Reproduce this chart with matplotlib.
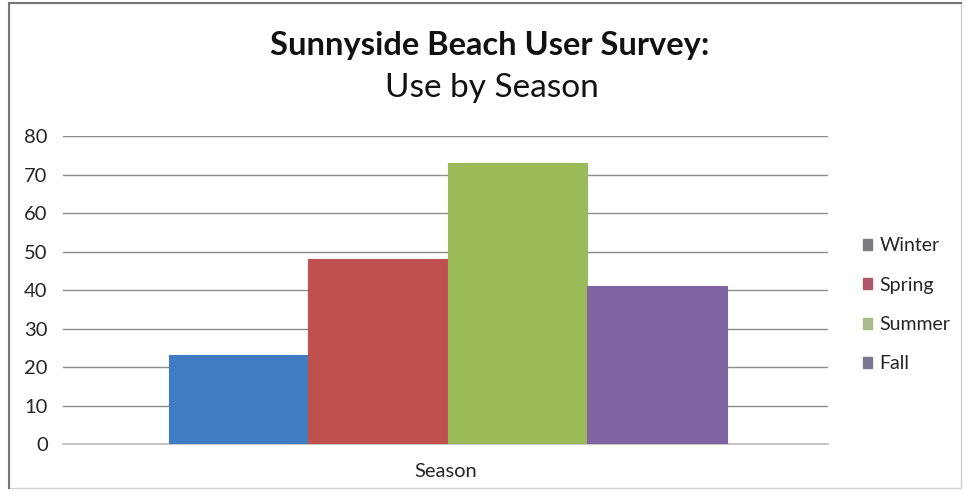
import matplotlib.pyplot as plt
from matplotlib.patches import Patch, Rectangle

# survey counts per season
seasons = ['Winter', 'Spring', 'Summer', 'Fall']
counts = [23, 48, 73, 41]
bar_colors = ['#3f7cc4', '#c0504d', '#9bbb59', '#8064a2']
# legend keys come out washed-out in the original export
key_colors = ['#7c7c80', '#b0566a', '#a9bb8c', '#7a7590']
category = 'Season'
yticks = [0, 10, 20, 30, 40, 50, 60, 70, 80]

plt.rcParams['font.family'] = ['Lato', 'DejaVu Sans']

fig = plt.figure(figsize=(9.66, 4.95), dpi=100)
ax = fig.add_axes([0.0652, 0.103, 0.792, 0.622])

# one category, four bars side by side
w = 0.1824
n = len(seasons)
for i, (s, v, c) in enumerate(zip(seasons, counts, bar_colors)):
    x = 0.003 + (i - (n - 1) / 2) * w
    ax.bar(x, v, width=w, color=c, edgecolor=c, linewidth=0.8, zorder=3)

ax.set_xlim(-0.5, 0.5)
ax.set_ylim(0, 80)
ax.set_yticks(yticks)
ax.set_xticks([0])
ax.set_xticklabels([category])
ax.tick_params(axis='both', length=0, labelsize=14.5, colors='#262626')
ax.tick_params(axis='y', pad=11)
ax.tick_params(axis='x', pad=14)
ax.yaxis.grid(True, color='#8c8c8c', linewidth=1.0, zorder=0)
ax.set_axisbelow(True)
for sp in ['left', 'right', 'top']:
    ax.spines[sp].set_visible(False)
ax.spines['bottom'].set_color('#bdbdbd')
ax.spines['bottom'].set_linewidth(1.2)

handles = [Patch(facecolor=k, edgecolor=k, label=s) for s, k in zip(seasons, key_colors)]
fig.legend(handles=handles, loc='center left', bbox_to_anchor=(0.875, 0.384),
           frameon=False, fontsize=14, handlelength=0.5, handleheight=0.5,
           handletextpad=0.35, labelspacing=1.15, labelcolor='#262626')

fig.text(0.507, 0.908, 'Sunnyside Beach User Survey:', ha='center', va='center',
         fontsize=23.5, fontweight='bold', color='#111111')
fig.text(0.509, 0.822, 'Use by Season', ha='center', va='center',
         fontsize=24, color='#111111')

# chart frame
fig.add_artist(Rectangle((0.0095, 0.015), 0.985, 0.978, transform=fig.transFigure,
                         fill=False, edgecolor='#d0d0d0', linewidth=1))
fig.add_artist(plt.Line2D([0.0095, 0.0095], [0.015, 0.993], transform=fig.transFigure,
                          color='#777777', linewidth=1.5))
fig.add_artist(plt.Line2D([0.0095, 0.995], [0.993, 0.993], transform=fig.transFigure,
                          color='#777777', linewidth=1.5))

fig.savefig('out.png', dpi=100, facecolor='white')
